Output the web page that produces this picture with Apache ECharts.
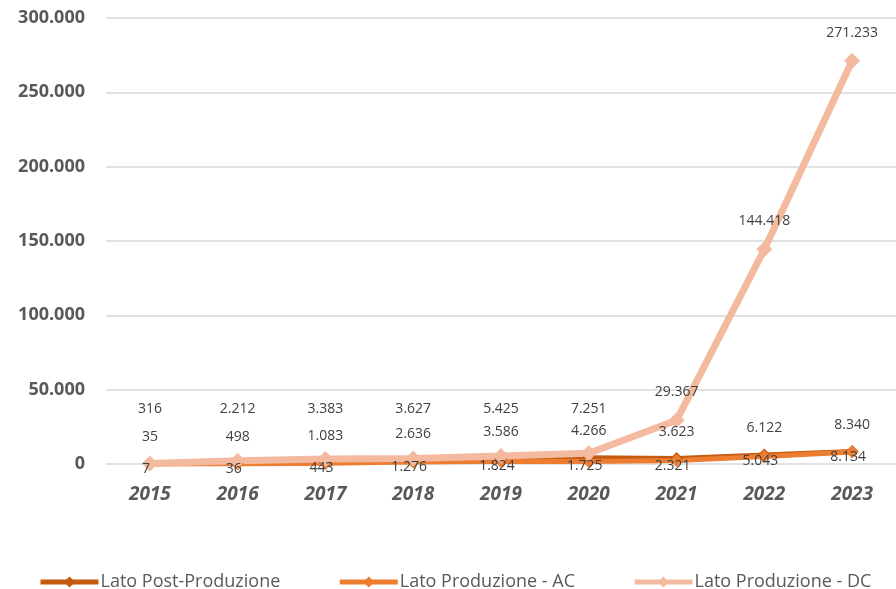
<!DOCTYPE html>
<html>
<head>
<meta charset="utf-8">
<script src="https://cdn.jsdelivr.net/npm/echarts@6/dist/echarts.min.js"></script>
<style>
  html, body { margin: 0; padding: 0; background: #fff; }
  #main { width: 896px; height: 589px; }
</style>
</head>
<body>
<div id="main"></div>
<script>
const years = ['2015', '2016', '2017', '2018', '2019', '2020', '2021', '2022', '2023'];
const postProduzione = [35, 498, 1083, 2636, 3586, 4266, 3623, 6122, 8340];
const produzioneAC = [7, 36, 443, 1276, 1824, 1725, 2321, 5043, 8134];
const produzioneDC = [316, 2212, 3383, 3627, 5425, 7251, 29367, 144418, 271233];

const colors = ['#C55A11', '#ED7D31', '#F4BAA0'];
const FONT = '"Open Sans", "Noto Sans", sans-serif';

// 300000 -> 300.000
const fmt = v => String(v).replace(/\B(?=(\d{3})+(?!\d))/g, '.');

const labelBase = {
    show: true,
    color: '#404040',
    fontFamily: FONT,
    fontSize: 14,
    lineHeight: 16,
    formatter: p => fmt(p.value)
};

const myChart = echarts.init(document.getElementById('main'));

const option = {
    animation: false,
    color: colors,
    grid: {left: 106, right: -5, top: 18, bottom: 125},
    legend: {
        top: 568,
        left: 33,
        itemWidth: 58,
        itemHeight: 14,
        itemGap: 57,
        lineStyle: {width: 5},
        textStyle: {color: '#595959', fontFamily: FONT, fontSize: 18, padding: [0, 0, 0, -3]},
        data: ['Lato Post-Produzione', 'Lato Produzione - AC', 'Lato Produzione - DC']
    },
    xAxis: {
        type: 'category',
        data: years,
        axisLine: {show: false},
        axisTick: {show: false},
        axisLabel: {
            color: '#595959',
            fontFamily: FONT,
            fontSize: 19,
            fontWeight: 'bold',
            fontStyle: 'italic',
            margin: 21
        }
    },
    yAxis: {
        type: 'value',
        min: 0,
        max: 300000,
        interval: 50000,
        axisLine: {show: false},
        axisTick: {show: false},
        splitLine: {lineStyle: {color: '#D9D9D9', width: 1.5}},
        axisLabel: {
            color: '#595959',
            fontFamily: FONT,
            fontSize: 18,
            fontWeight: 'bold',
            margin: 21,
            formatter: v => fmt(v)
        }
    },
    series: [
        {
            name: 'Lato Post-Produzione',
            type: 'line',
            data: postProduzione,
            lineStyle: {width: 5},
            symbol: 'diamond',
            symbolSize: 13,
            label: Object.assign({}, labelBase, {position: 'top', distance: 12})
        }, {
            name: 'Lato Produzione - AC',
            type: 'line',
            data: produzioneAC,
            lineStyle: {width: 5},
            symbol: 'diamond',
            symbolSize: 13,
            label: Object.assign({}, labelBase, {position: 'inside', offset: [-4, 5]})
        }, {
            name: 'Lato Produzione - DC',
            type: 'line',
            data: produzioneDC,
            lineStyle: {width: 7},
            symbol: 'diamond',
            symbolSize: 16,
            label: Object.assign({}, labelBase, {position: 'top', distance: 12})
        }
    ]
};

myChart.setOption(option);

// keep the small DC labels on their own row above the Post-Produzione labels
const y0 = myChart.convertToPixel({yAxisIndex: 0}, 0);
const dcData = produzioneDC.map((v, i) => {
    const y = myChart.convertToPixel({seriesIndex: 2}, [i, v])[1];
    const lift = (y - 26) - (y0 - 53);
    return lift > 0 ? {value: v, label: {distance: 12 + lift}} : v;
});
myChart.setOption({series: [{}, {}, {data: dcData}]});
</script>
</body>
</html>
